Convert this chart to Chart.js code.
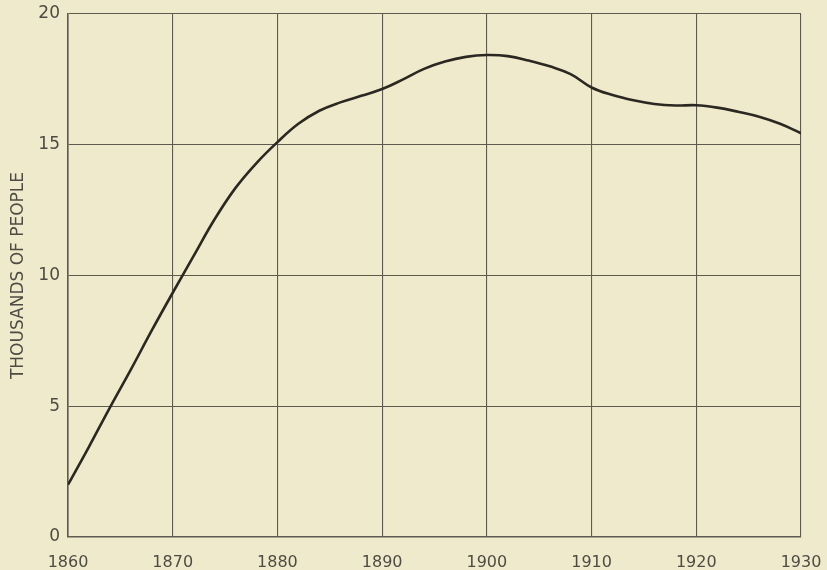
<!DOCTYPE html>
<html>
<head>
<meta charset="utf-8">
<script src="https://cdn.jsdelivr.net/npm/chart.js@4"></script>
<style>
  html, body { margin: 0; padding: 0; background: #f0eacc; }
  #wrap { width: 827px; height: 570px; }
</style>
</head>
<body>
<div id="wrap"><canvas id="c" width="827" height="570"></canvas></div>
<script>
const years = [1860,1862,1864,1866,1868,1870,1872,1874,1876,1878,1880,1882,1884,1886,1888,1890,1892,1894,1896,1898,1900,1902,1904,1906,1908,1910,1912,1914,1916,1918,1920,1922,1924,1926,1928,1930];
const people = [2.0,3.45,4.95,6.4,7.9,9.34,10.75,12.15,13.35,14.3,15.1,15.8,16.3,16.62,16.87,17.13,17.5,17.9,18.18,18.36,18.43,18.39,18.22,18.0,17.7,17.19,16.9,16.7,16.56,16.5,16.51,16.42,16.26,16.07,15.8,15.44];
const yTitle = 'THOUSANDS OF PEOPLE';

const bgPlugin = {
  id: 'bg',
  beforeDraw(chart) {
    const ctx = chart.ctx;
    ctx.save();
    ctx.fillStyle = '#f0eacc';
    ctx.fillRect(0, 0, chart.width, chart.height);
    ctx.restore();
  }
};

const gridColor = '#5e5a50';
const textColor = '#4e4b43';
const fontFam = '"DejaVu Sans", sans-serif';

new Chart(document.getElementById('c'), {
  type: 'line',
  data: {
    datasets: [{
      data: years.map((y, i) => ({ x: y, y: people[i] })),
      borderColor: '#2b2822',
      borderWidth: 2.6,
      pointRadius: 0,
      fill: false,
      tension: 0.4
    }]
  },
  options: {
    responsive: false,
    animation: false,
    devicePixelRatio: 1,
    layout: { padding: { top: 14, right: 26, left: 0, bottom: 0 } },
    plugins: { legend: { display: false }, tooltip: { enabled: false } },
    scales: {
      x: {
        type: 'linear',
        min: 1860, max: 1930,
        ticks: { stepSize: 10, padding: 16, color: textColor, font: { family: fontFam, size: 16, weight: 'normal' }, callback: v => String(v) },
        grid: { color: gridColor, lineWidth: 1.1, drawTicks: false },
        border: { color: gridColor, width: 1.6 },
        afterFit(s) { s.height = 33; s.paddingLeft = 0; s.paddingRight = 0; }
      },
      y: {
        min: 0, max: 20,
        ticks: { stepSize: 5, padding: 8, color: textColor, font: { family: fontFam, size: 17 } },
        grid: { color: gridColor, lineWidth: 1.1, drawTicks: false },
        border: { color: gridColor, width: 1.6 },
        title: { display: true, text: yTitle, color: textColor, font: { family: fontFam, size: 17 }, padding: { top: 8, bottom: 0 } },
        afterFit(s) { s.width = 68; s.paddingTop = 0; s.paddingBottom = 0; }
      }
    }
  },
  plugins: [bgPlugin]
});
</script>
</body>
</html>
